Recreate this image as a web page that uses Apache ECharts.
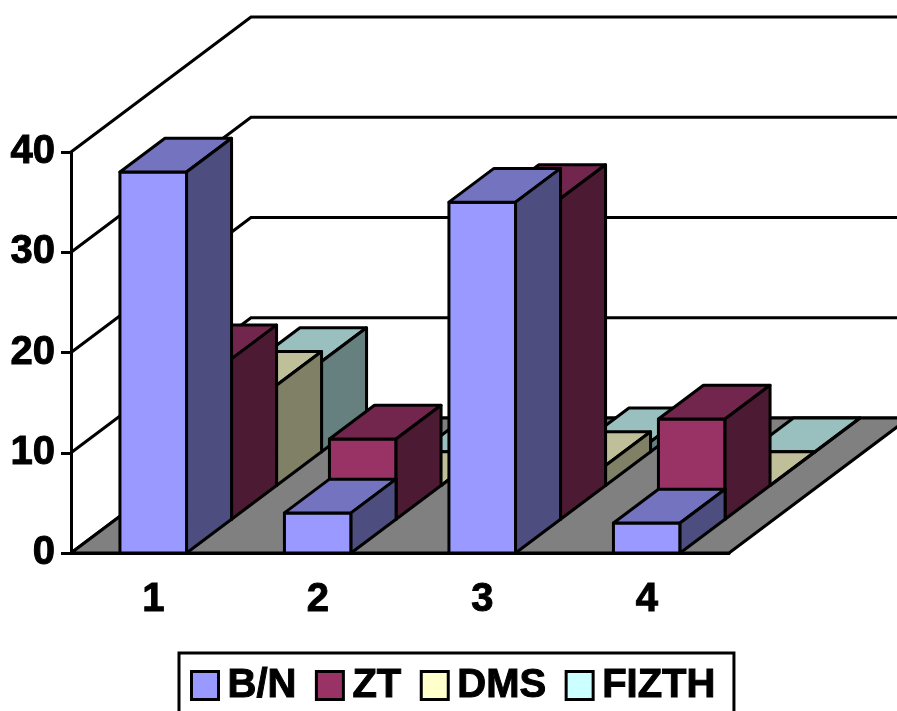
<!DOCTYPE html>
<html>
<head>
<meta charset="utf-8">
<title>chart</title>
<script src="https://cdn.jsdelivr.net/npm/echarts@6/dist/echarts.min.js"></script>
<style>
  html, body { margin: 0; padding: 0; background: #fff; overflow: hidden; }
  #main { width: 897px; height: 711px; }
</style>
</head>
<body>
<div id="main"></div>
<script>
var categories = ['1', '2', '3', '4']
var yTicks = [0, 10, 20, 30, 40]
var seriesNames = ['B/N', 'ZT', 'DMS', 'FIZTH']
var bnValues = [38, 4, 35, 3]
var ztValues = [16, 8, 32, 10]
var dmsValues = [10, 0, 2, 0]
var fizthValues = [9, 0, 1, 0]

// depth of one row of bars, in pixels
var DX = 45
var DY = 33.75
var LINE = 3
var FONT = '"Liberation Sans", Arial, sans-serif'

var myChart = echarts.init(document.getElementById('main'), null, { renderer: 'canvas' })

function poly(points, fill) {
  return {
    type: 'polygon',
    shape: { points: points },
    style: { fill: fill, stroke: '#000', lineWidth: LINE, lineJoin: 'round' }
  }
}

function barSeries(name, values, row, colors) {
  return {
    name: name,
    type: 'custom',
    z: 10 - row,
    itemStyle: { color: colors[0], borderColor: '#000', borderWidth: LINE },
    encode: { x: 0, y: 1 },
    data: values.map(function (v, i) { return [i, v] }),
    renderItem: function (params, api) {
      var top = api.coord([api.value(0), api.value(1)])
      var base = api.coord([api.value(0), 0])
      var w = api.size([1, 0])[0] * 0.405
      var ox = DX * row
      var oy = DY * row
      var l = top[0] - w / 2 + ox
      var r = l + w
      var t = top[1] - oy
      var b = base[1] - oy
      return {
        type: 'group',
        children: [
          poly([[l, b], [r, b], [r, t], [l, t]], colors[0]),
          poly([[l, t], [r, t], [r + DX, t - DY], [l + DX, t - DY]], colors[1]),
          poly([[r, b], [r + DX, b - DY], [r + DX, t - DY], [r, t]], colors[2])
        ]
      }
    }
  }
}

// back walls, one line per y tick
var wallSeries = {
  type: 'custom',
  z: 1,
  silent: true,
  encode: { y: 0 },
  data: yTicks.map(function (v) { return [v] }),
  renderItem: function (params, api) {
    var start = api.coord([0, api.value(0)])
    var x0 = params.coordSys.x
    var x1 = x0 + params.coordSys.width
    return {
      type: 'polyline',
      shape: { points: [[x0, start[1]], [x0 + DX * 4, start[1] - DY * 4], [x1 + DX * 4, start[1] - DY * 4]] },
      style: { fill: 'none', stroke: '#000', lineWidth: LINE }
    }
  }
}

var floorSeries = {
  type: 'custom',
  z: 2,
  silent: true,
  encode: { y: 0 },
  data: [[0]],
  renderItem: function (params, api) {
    var y = api.coord([0, 0])[1]
    var x0 = params.coordSys.x
    var x1 = x0 + params.coordSys.width
    return poly([[x0, y], [x1, y], [x1 + DX * 4, y - DY * 4], [x0 + DX * 4, y - DY * 4]], '#808080')
  }
}

var labelStyle = {
  fontFamily: FONT,
  fontWeight: 'bold',
  fontSize: 40,
  color: '#000',
  textBorderColor: '#000',
  textBorderWidth: 1
}

var option = {
  animation: false,
  backgroundColor: '#fff',
  grid: { left: 71, right: 168, top: 152, bottom: 158 },
  legend: {
    data: seriesNames,
    left: 179,
    top: 653,
    padding: [12, 18, 40, 11],
    itemGap: 18,
    itemWidth: 27,
    itemHeight: 28,
    icon: 'rect',
    borderColor: '#000',
    borderWidth: LINE,
    itemStyle: { borderColor: '#000', borderWidth: LINE },
    textStyle: Object.assign({ padding: [1, 0, 0, 4] }, labelStyle)
  },
  xAxis: {
    type: 'category',
    data: categories,
    axisTick: { show: false },
    axisLine: { lineStyle: { color: '#000', width: LINE } },
    axisLabel: Object.assign({ margin: 27 }, labelStyle),
    z: 20
  },
  yAxis: {
    type: 'value',
    min: 0,
    max: 40,
    interval: 10,
    splitLine: { show: false },
    axisLine: { show: true, lineStyle: { color: '#000', width: LINE } },
    axisTick: { show: true, length: 10, lineStyle: { color: '#000', width: LINE } },
    axisLabel: Object.assign({ margin: 16, padding: [10, 0, 0, 0] }, labelStyle)
  },
  series: [
    wallSeries,
    floorSeries,
    barSeries(seriesNames[0], bnValues, 0, ['#9999FF', '#7373BF', '#4D4D80']),
    barSeries(seriesNames[1], ztValues, 1, ['#993366', '#73264D', '#4D1A33']),
    barSeries(seriesNames[2], dmsValues, 2, ['#FFFFCC', '#BFBF99', '#808066']),
    barSeries(seriesNames[3], fizthValues, 3, ['#CCFFFF', '#99BFBF', '#668080'])
  ]
}
myChart.setOption(option)
</script>
</body>
</html>
